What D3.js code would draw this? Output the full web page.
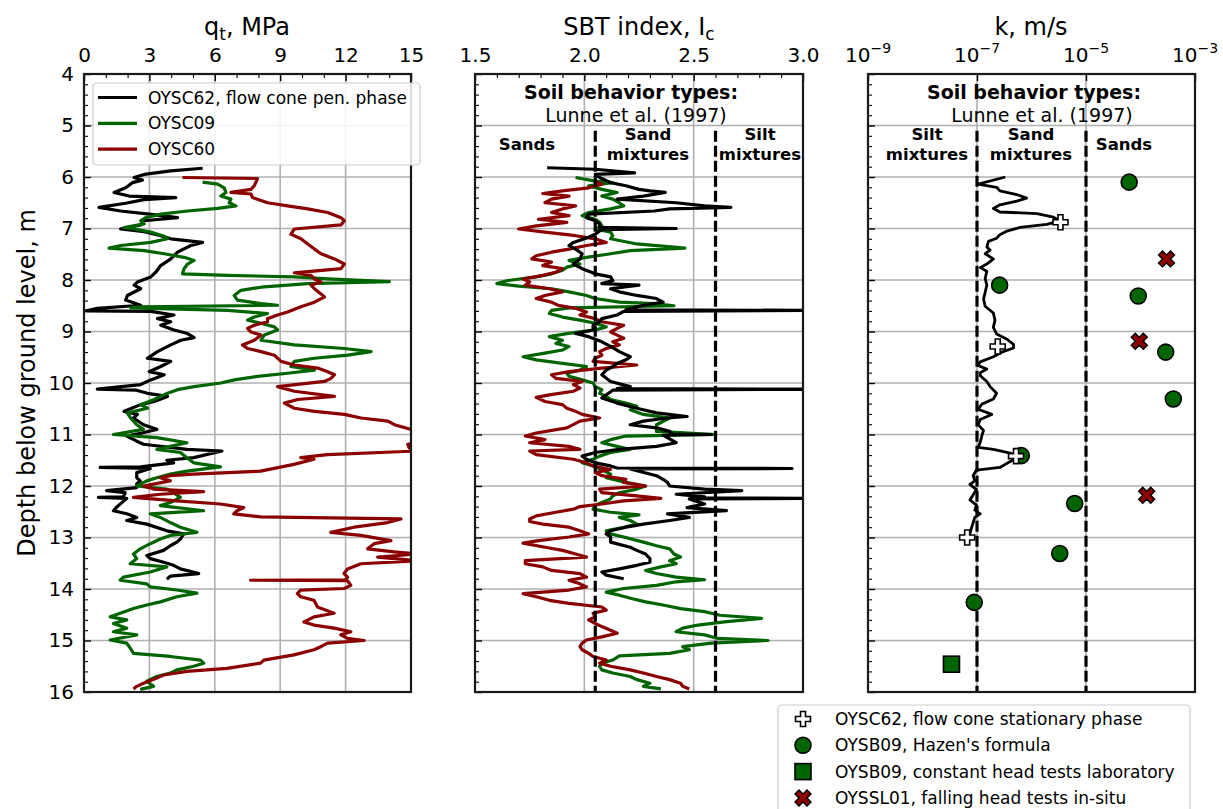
<!DOCTYPE html>
<html><head><meta charset="utf-8">
<script src="https://cdn.jsdelivr.net/npm/d3@7"></script>
<style>
body{margin:0;background:#fff;}
svg text{font-family:"DejaVu Sans",sans-serif;}
</style>
</head><body>
<svg id="chart" width="1223" height="809"></svg>
<script>
// ---------------- DATA ----------------
// Panel 1: cone tip resistance qt [depth m, qt MPa]
const qtOYSC62 = [[5.83,5.44],[5.88,3.98],[5.95,2.76],[6.01,2.30],[6.06,2.68],[6.11,2.22],[6.21,1.91],[6.30,1.38],[6.37,2.07],[6.40,4.21],[6.44,2.76],[6.51,1.91],[6.59,0.69],[6.66,1.68],[6.72,2.99],[6.79,4.29],[6.85,2.76],[6.93,2.60],[7.01,1.68],[7.06,2.76],[7.14,3.52],[7.20,3.98],[7.27,5.44],[7.33,4.90],[7.46,4.29],[7.59,3.98],[7.72,3.52],[7.85,3.29],[7.94,3.06],[8.04,2.45],[8.10,2.30],[8.17,2.60],[8.30,1.99],[8.39,1.91],[8.49,2.60],[8.55,0.61],[8.60,0.10],[8.61,3.06],[8.68,4.13],[8.75,3.37],[8.81,3.98],[8.88,3.52],[8.97,4.13],[9.04,4.75],[9.12,5.05],[9.17,4.44],[9.26,3.98],[9.39,3.37],[9.52,2.91],[9.58,3.98],[9.68,3.52],[9.78,2.99],[9.84,3.68],[9.94,3.06],[10.03,2.60],[10.12,0.61],[10.14,2.40],[10.20,2.91],[10.26,3.83],[10.36,3.22],[10.42,2.60],[10.55,1.84],[10.61,2.45],[10.68,2.27],[10.81,2.73],[10.90,3.34],[10.97,2.65],[11.03,1.96],[11.13,2.42],[11.19,2.73],[11.29,4.72],[11.32,6.33],[11.45,5.03],[11.50,3.80],[11.55,4.11],[11.63,2.60],[11.64,0.74],[11.66,3.04],[11.74,2.42],[11.84,2.42],[11.90,2.58],[11.96,2.42],[12.03,2.42],[12.09,1.04],[12.13,1.89],[12.21,1.80],[12.22,0.66],[12.24,1.96],[12.41,1.50],[12.48,1.35],[12.54,1.96],[12.61,2.42],[12.67,1.96],[12.74,2.88],[12.87,3.80],[12.93,4.57],[13.03,4.42],[13.09,4.26],[13.16,3.96],[13.25,3.65],[13.35,2.88],[13.41,3.04],[13.48,3.65],[13.54,4.11],[13.61,4.42],[13.70,5.26],[13.75,3.96],[13.81,3.80]];
const qtOYSC09 = [[6.10,5.44],[6.14,6.13],[6.21,6.43],[6.30,6.51],[6.37,6.28],[6.43,6.74],[6.50,6.66],[6.56,6.97],[6.61,6.13],[6.66,4.75],[6.72,3.52],[6.79,2.83],[6.85,2.60],[6.91,2.76],[6.98,1.84],[7.02,2.45],[7.07,3.06],[7.15,3.68],[7.20,3.83],[7.27,3.06],[7.33,1.68],[7.38,1.15],[7.43,2.76],[7.49,3.68],[7.56,4.59],[7.62,5.05],[7.69,4.75],[7.78,4.59],[7.88,4.52],[7.91,6.58],[7.94,9.65],[7.98,11.18],[8.03,14.01],[8.07,10.26],[8.14,8.12],[8.20,7.20],[8.30,6.89],[8.39,7.04],[8.46,8.12],[8.49,8.88],[8.52,2.60],[8.54,2.14],[8.59,6.58],[8.65,8.42],[8.72,7.81],[8.78,7.50],[8.84,8.12],[8.91,8.73],[8.97,8.88],[9.07,8.27],[9.17,8.12],[9.26,9.65],[9.33,11.94],[9.39,13.17],[9.46,12.10],[9.52,10.57],[9.58,9.65],[9.68,9.49],[9.75,10.57],[9.81,9.34],[9.87,7.96],[9.94,6.89],[10.00,6.28],[10.07,5.05],[10.13,4.29],[10.20,3.83],[10.26,3.52],[10.32,3.22],[10.42,2.60],[10.49,2.91],[10.58,1.99],[10.68,2.14],[10.81,2.42],[10.90,2.73],[11.00,1.35],[11.06,3.34],[11.16,4.72],[11.23,3.96],[11.29,3.34],[11.35,4.42],[11.45,4.72],[11.55,5.03],[11.63,6.26],[11.71,4.72],[11.77,3.96],[11.84,3.34],[11.90,2.88],[12.00,2.42],[12.06,3.80],[12.13,4.11],[12.22,4.42],[12.32,3.96],[12.38,3.50],[12.48,5.49],[12.54,3.04],[12.61,3.50],[12.71,3.96],[12.80,4.42],[12.90,5.18],[12.96,3.96],[13.03,3.50],[13.12,3.04],[13.22,2.58],[13.32,2.27],[13.41,2.42],[13.51,2.12],[13.57,3.80],[13.67,3.04],[13.77,1.81],[13.83,1.66],[13.90,2.88],[13.96,3.04],[14.02,4.26],[14.08,5.18],[14.15,4.26],[14.25,3.50],[14.31,2.88],[14.38,2.27],[14.47,1.66],[14.54,1.20],[14.60,1.96],[14.67,1.35],[14.76,1.96],[14.83,1.35],[14.89,2.42],[14.99,1.20],[15.05,1.96],[15.15,2.12],[15.25,2.27],[15.31,3.96],[15.38,5.34],[15.44,5.49],[15.50,5.03],[15.57,4.26],[15.63,3.96],[15.70,3.34],[15.79,2.88],[15.89,3.19],[15.95,2.58]];
const qtOYSC60 = [[6.01,4.52],[6.03,7.96],[6.17,7.81],[6.24,7.66],[6.30,6.74],[6.33,7.66],[6.40,7.73],[6.50,8.42],[6.56,9.34],[6.62,10.26],[6.69,11.18],[6.79,11.79],[6.85,11.94],[6.93,11.79],[7.01,9.65],[7.11,9.49],[7.20,9.95],[7.30,10.26],[7.40,10.57],[7.49,10.87],[7.59,11.49],[7.69,11.94],[7.78,11.79],[7.86,9.65],[7.91,10.41],[7.98,10.57],[8.04,10.87],[8.10,10.41],[8.17,10.57],[8.27,10.87],[8.33,11.03],[8.43,10.57],[8.52,9.95],[8.62,9.34],[8.68,8.88],[8.75,8.42],[8.81,8.42],[8.88,7.81],[8.94,7.50],[9.01,7.66],[9.07,8.12],[9.17,7.81],[9.26,7.27],[9.33,7.50],[9.39,8.12],[9.46,8.73],[9.52,8.88],[9.58,9.04],[9.65,9.65],[9.71,10.72],[9.78,11.18],[9.84,11.49],[9.91,11.33],[9.97,11.03],[10.07,8.88],[10.16,9.65],[10.26,11.49],[10.32,9.80],[10.39,9.19],[10.49,9.65],[10.55,10.57],[10.61,11.94],[10.68,12.71],[10.74,13.94],[10.81,14.24],[10.90,15.00],[10.97,15.40],[11.13,15.60],[11.19,14.85],[11.26,14.92],[11.32,15.30],[11.39,11.17],[11.45,9.94],[11.48,10.55],[11.58,9.63],[11.71,8.10],[11.77,5.03],[11.80,3.96],[11.84,3.50],[11.90,3.96],[12.00,2.73],[12.06,3.19],[12.11,5.49],[12.16,3.50],[12.22,2.27],[12.29,4.26],[12.35,6.26],[12.42,7.33],[12.48,7.02],[12.54,6.87],[12.60,8.10],[12.64,14.54],[12.71,13.93],[12.80,12.39],[12.90,11.32],[12.96,12.70],[13.06,14.08],[13.12,13.31],[13.22,13.01],[13.28,14.23],[13.32,15.30],[13.38,13.47],[13.45,15.30],[13.51,12.70],[13.61,12.09],[13.70,11.93],[13.77,12.09],[13.82,12.00],[13.83,7.64],[13.84,12.09],[13.93,12.24],[13.99,11.93],[14.02,9.94],[14.09,9.79],[14.15,9.94],[14.22,10.55],[14.35,10.71],[14.47,11.47],[14.54,10.55],[14.64,10.09],[14.70,10.55],[14.76,11.47],[14.83,12.24],[14.89,11.78],[14.96,12.09],[15.00,12.85],[15.05,11.17],[15.12,10.86],[15.18,10.55],[15.28,9.63],[15.38,8.25],[15.44,8.10],[15.54,6.56],[15.60,4.72],[15.67,3.65],[15.73,3.34],[15.83,2.73],[15.89,2.42],[15.94,2.27]];

// Panel 2: SBT index Ic [depth m, Ic]
const icOYSC62 = [[5.82,1.83],[5.85,2.05],[5.92,2.23],[5.95,2.05],[6.01,2.07],[6.11,2.12],[6.17,2.19],[6.24,2.25],[6.27,2.30],[6.30,2.37],[6.37,2.27],[6.43,2.15],[6.50,2.42],[6.56,2.55],[6.59,2.67],[6.62,2.39],[6.66,2.32],[6.72,2.02],[6.79,2.01],[6.85,2.05],[6.91,2.07],[6.98,2.07],[7.00,2.42],[7.02,2.08],[7.11,2.05],[7.17,2.02],[7.27,1.95],[7.33,1.93],[7.40,1.96],[7.49,1.99],[7.59,1.98],[7.69,1.95],[7.78,1.99],[7.88,2.05],[7.94,2.12],[8.01,2.13],[8.07,2.08],[8.10,2.25],[8.17,2.12],[8.23,2.16],[8.30,2.24],[8.36,2.33],[8.43,2.36],[8.49,2.27],[8.58,2.19],[8.59,3.10],[8.61,2.18],[8.68,2.15],[8.75,2.08],[8.81,2.07],[8.88,2.04],[8.97,2.04],[9.04,1.96],[9.10,2.02],[9.20,2.08],[9.29,2.12],[9.39,2.16],[9.49,2.21],[9.55,2.19],[9.62,2.15],[9.68,2.13],[9.75,2.10],[9.84,2.08],[9.97,2.12],[10.07,2.21],[10.11,2.15],[10.12,3.10],[10.14,2.13],[10.29,2.08],[10.39,2.15],[10.49,2.24],[10.58,2.33],[10.65,2.47],[10.68,2.38],[10.74,2.27],[10.81,2.21],[10.87,2.33],[10.94,2.39],[10.99,2.40],[11.00,2.58],[11.01,2.36],[11.16,2.42],[11.23,2.33],[11.29,2.16],[11.35,2.05],[11.42,1.99],[11.48,2.01],[11.55,2.05],[11.61,2.12],[11.65,2.15],[11.66,2.95],[11.67,2.21],[11.80,2.33],[11.87,2.36],[11.93,2.38],[12.00,2.39],[12.06,2.55],[12.09,2.72],[12.16,2.42],[12.21,2.55],[12.23,2.50],[12.24,3.10],[12.25,2.48],[12.35,2.55],[12.42,2.47],[12.48,2.65],[12.54,2.38],[12.61,2.48],[12.67,2.39],[12.74,2.27],[12.80,2.19],[12.87,2.12],[12.93,2.10],[12.99,2.12],[13.09,2.12],[13.19,2.21],[13.25,2.24],[13.32,2.28],[13.41,2.30],[13.48,2.30],[13.54,2.24],[13.61,2.16],[13.67,2.08],[13.73,2.10],[13.80,2.18]];
const icOYSC09 = [[6.01,1.96],[6.08,2.05],[6.11,2.13],[6.17,2.02],[6.24,2.08],[6.30,2.15],[6.37,2.08],[6.43,2.13],[6.50,2.16],[6.56,2.18],[6.62,2.12],[6.69,2.02],[6.75,1.99],[6.82,2.05],[6.88,2.07],[6.95,2.08],[7.01,2.05],[7.07,2.12],[7.14,2.13],[7.20,2.12],[7.30,2.24],[7.38,2.46],[7.43,2.21],[7.49,2.12],[7.56,2.01],[7.62,1.93],[7.69,1.98],[7.75,1.92],[7.81,1.90],[7.88,1.85],[7.94,1.78],[8.01,1.65],[8.07,1.60],[8.12,1.70],[8.17,1.85],[8.23,1.93],[8.30,2.01],[8.36,2.05],[8.43,2.16],[8.46,2.32],[8.50,2.41],[8.54,1.93],[8.59,1.85],[8.65,1.84],[8.72,1.90],[8.78,1.98],[8.84,2.05],[8.91,2.10],[8.97,2.05],[9.04,1.92],[9.10,1.84],[9.17,1.90],[9.23,1.87],[9.29,1.93],[9.36,1.90],[9.42,1.82],[9.49,1.72],[9.55,1.78],[9.62,1.90],[9.68,2.01],[9.75,1.98],[9.81,1.92],[9.87,1.93],[9.94,1.99],[10.00,2.04],[10.07,2.05],[10.13,2.08],[10.20,2.07],[10.26,2.10],[10.32,2.12],[10.39,2.19],[10.45,2.24],[10.52,2.21],[10.61,2.27],[10.68,2.39],[10.81,2.33],[10.94,2.33],[11.00,2.60],[11.03,2.19],[11.10,2.12],[11.16,2.08],[11.23,2.15],[11.29,2.21],[11.35,2.12],[11.42,2.07],[11.48,2.04],[11.55,1.99],[11.61,2.04],[11.68,2.08],[11.77,2.12],[11.84,2.10],[11.93,2.19],[12.00,2.28],[12.06,2.24],[12.13,2.16],[12.19,2.13],[12.25,2.12],[12.32,2.08],[12.38,2.05],[12.45,2.04],[12.51,2.12],[12.56,2.25],[12.61,2.16],[12.67,2.21],[12.74,2.24],[12.80,2.18],[12.87,2.10],[12.93,2.12],[12.99,2.18],[13.09,2.27],[13.16,2.33],[13.22,2.39],[13.32,2.41],[13.38,2.44],[13.45,2.39],[13.51,2.42],[13.57,2.35],[13.64,2.28],[13.70,2.33],[13.77,2.42],[13.82,2.55],[13.86,2.42],[13.93,2.33],[13.99,2.18],[14.06,2.10],[14.12,2.16],[14.19,2.22],[14.25,2.28],[14.31,2.36],[14.38,2.44],[14.44,2.55],[14.51,2.62],[14.57,2.81],[14.64,2.64],[14.70,2.52],[14.76,2.45],[14.83,2.42],[14.89,2.55],[14.96,2.61],[15.00,2.84],[15.05,2.58],[15.12,2.45],[15.18,2.48],[15.25,2.39],[15.30,2.16],[15.38,2.13],[15.44,2.08],[15.50,2.07],[15.57,2.08],[15.63,2.13],[15.70,2.21],[15.76,2.24],[15.83,2.30],[15.89,2.27],[15.94,2.35]];
const icOYSC60 = [[6.08,2.05],[6.14,2.08],[6.21,2.02],[6.27,1.90],[6.32,1.81],[6.37,1.93],[6.43,1.85],[6.50,1.82],[6.56,1.96],[6.62,1.90],[6.69,1.85],[6.75,1.93],[6.82,1.79],[6.88,1.92],[6.95,1.78],[7.01,1.70],[7.07,1.82],[7.14,1.96],[7.20,2.05],[7.27,2.10],[7.33,2.01],[7.40,1.93],[7.46,1.85],[7.53,1.78],[7.59,1.76],[7.65,1.85],[7.72,1.81],[7.78,1.90],[7.85,1.87],[7.91,1.81],[7.98,1.72],[8.04,1.75],[8.10,1.73],[8.17,1.84],[8.23,1.90],[8.30,1.82],[8.36,1.78],[8.43,1.85],[8.49,1.88],[8.55,1.96],[8.62,2.01],[8.68,1.98],[8.75,2.05],[8.81,2.08],[8.88,2.18],[8.94,2.15],[9.01,2.12],[9.07,2.15],[9.13,2.18],[9.20,2.13],[9.26,2.16],[9.33,2.10],[9.39,2.07],[9.46,2.08],[9.52,2.05],[9.58,2.04],[9.65,2.24],[9.71,2.08],[9.78,1.93],[9.84,1.85],[9.91,1.87],[9.97,1.99],[10.03,1.95],[10.10,1.98],[10.16,1.95],[10.23,1.84],[10.28,1.78],[10.36,1.82],[10.42,1.90],[10.49,1.92],[10.55,1.96],[10.61,1.99],[10.68,2.07],[10.74,1.98],[10.87,1.92],[10.97,1.78],[11.03,1.73],[11.10,1.82],[11.16,1.75],[11.23,1.93],[11.29,1.98],[11.32,1.75],[11.39,1.78],[11.48,1.95],[11.55,2.01],[11.61,2.04],[11.68,2.12],[11.74,2.05],[11.80,2.08],[11.87,2.19],[11.93,2.18],[12.00,2.28],[12.06,2.07],[12.13,2.08],[12.19,2.24],[12.24,2.35],[12.29,2.18],[12.35,2.08],[12.40,1.98],[12.45,1.95],[12.51,1.87],[12.58,1.78],[12.64,1.75],[12.69,1.75],[12.74,1.81],[12.80,1.93],[12.87,1.98],[12.93,2.02],[12.99,1.93],[13.06,1.79],[13.11,1.72],[13.19,1.82],[13.25,1.90],[13.32,1.96],[13.38,2.01],[13.45,1.73],[13.51,1.73],[13.57,1.81],[13.64,1.85],[13.70,1.98],[13.77,2.01],[13.83,1.93],[13.90,1.98],[13.96,2.01],[14.02,1.93],[14.09,1.72],[14.15,1.78],[14.22,1.84],[14.28,1.93],[14.35,2.08],[14.41,2.10],[14.47,2.04],[14.54,2.05],[14.60,2.02],[14.67,2.05],[14.73,2.08],[14.80,2.12],[14.86,2.15],[14.93,2.08],[14.99,2.01],[15.05,1.99],[15.12,1.98],[15.18,1.99],[15.25,2.02],[15.31,2.04],[15.38,2.10],[15.44,2.07],[15.50,2.12],[15.57,2.21],[15.63,2.27],[15.70,2.33],[15.76,2.39],[15.83,2.44],[15.89,2.45],[15.94,2.48]];
const icBoundaries = [2.05, 2.6];

// Panel 3: hydraulic conductivity, [depth m, log10(k in m/s)] for the flow-cone profile
const kOYSC62FlowLog10 = [[6.00,-6.48],[6.14,-6.98],[6.20,-6.64],[6.27,-6.58],[6.34,-6.27],[6.41,-6.09],[6.47,-6.27],[6.54,-6.58],[6.61,-6.70],[6.68,-6.58],[6.71,-5.90],[6.78,-5.60],[6.85,-5.47],[6.92,-5.72],[6.98,-6.21],[7.05,-6.45],[7.12,-6.58],[7.19,-6.64],[7.25,-6.79],[7.36,-6.82],[7.42,-6.76],[7.49,-6.85],[7.59,-6.70],[7.69,-6.82],[7.76,-6.94],[7.83,-6.82],[7.97,-6.85],[8.10,-6.82],[8.24,-6.85],[8.37,-6.88],[8.51,-6.85],[8.64,-6.70],[8.78,-6.67],[8.92,-6.70],[9.05,-6.64],[9.15,-6.45],[9.25,-6.33],[9.32,-6.33],[9.39,-6.52],[9.49,-6.70],[9.59,-6.94],[9.66,-6.98],[9.73,-6.82],[9.80,-6.94],[9.86,-6.94],[9.97,-6.82],[10.07,-6.76],[10.20,-6.64],[10.31,-6.70],[10.41,-6.91],[10.51,-6.98],[10.61,-6.73],[10.71,-6.94],[10.81,-6.98],[10.92,-6.88],[11.02,-6.91],[11.15,-6.94],[11.25,-6.98],[11.29,-6.70],[11.36,-6.39],[11.42,-6.27],[11.49,-6.33],[11.56,-6.45],[11.64,-6.58],[11.69,-7.01],[11.80,-7.07],[11.90,-7.04],[11.97,-7.13],[12.07,-7.01],[12.17,-7.07],[12.27,-7.13],[12.37,-7.01],[12.47,-7.04],[12.54,-6.94],[12.61,-7.04],[12.71,-7.07],[12.81,-7.10],[12.92,-7.13],[13.00,-7.18]];
// point measurements [depth m, k m/s]
const kOYSC62Stationary = [[6.88,3.4e-6],[9.29,2.4e-7],[11.42,5.2e-7],[13.00,6.6e-8]];
const kOYSB09Hazen = [[6.10,6.2e-5],[8.10,2.6e-7],[8.31,9.1e-5],[9.40,2.9e-4],[10.31,4.0e-4],[11.41,6.5e-7],[12.34,6.2e-6],[13.31,3.3e-6],[14.26,8.9e-8]];
const kOYSB09ConstHead = [[15.46,3.4e-8]];
const kOYSSL01FallingHead = [[7.59,3.0e-4],[9.19,9.5e-5],[12.18,1.3e-4]];
const kBoundaries = [1e-7, 1e-5];

const depthTicks = [4,5,6,7,8,9,10,11,12,13,14,15,16];
const qtTicks = [0,3,6,9,12,15];
const icTicks = [1.5,2.0,2.5,3.0];
const kTicks = [1e-9,1e-7,1e-5,1e-3];

const C_BLACK = "#000000", C_GREEN = "#006400", C_RED = "#8b0000";

// ---------------- LAYOUT ----------------
const svg = d3.select("#chart");
const TOP = 74, BOT = 692;
const y = d3.scaleLinear().domain([4,16]).range([TOP,BOT]);
const x1 = d3.scaleLinear().domain([0,15]).range([84,411]);
const x2 = d3.scaleLinear().domain([1.5,3.0]).range([475,803]);
const x3 = d3.scaleLog().domain([1e-9,1e-3]).range([868,1195]);

const gridColor = "#b0b0b0";
const minorDepth = d3.range(4,16.001,0.2).map(v=>+v.toFixed(1)).filter(v=>Math.abs(v-Math.round(v))>1e-6);

function panel(id, x, vgrid, majors, minors, showDepthLabels, fmt){
  const [xa, xb] = x.range();
  const g = svg.append("g");
  g.append("clipPath").attr("id","clip"+id).append("rect")
    .attr("x",xa).attr("y",TOP).attr("width",xb-xa).attr("height",BOT-TOP);
  const grid = g.append("g").attr("stroke",gridColor).attr("stroke-width",1.6);
  depthTicks.slice(1,-1).forEach(d=>grid.append("line").attr("x1",xa).attr("x2",xb).attr("y1",y(d)).attr("y2",y(d)));
  vgrid.forEach(v=>grid.append("line").attr("x1",x(v)).attr("x2",x(v)).attr("y1",TOP).attr("y2",BOT));
  const data = g.append("g").attr("clip-path","url(#clip"+id+")");
  const over = g.append("g");
  const axes = g.append("g");
  const ta = axes.append("g").attr("transform",`translate(0,${TOP})`)
    .call(d3.axisTop(x).tickValues(majors).tickSize(-7).tickPadding(12).tickFormat(fmt||null));
  ta.select(".domain").remove();
  ta.selectAll("text").attr("font-size",20).attr("font-family","DejaVu Sans").attr("fill","#000");
  ta.selectAll("line").attr("stroke","#000").attr("stroke-width",1.4);
  if(minors.length){
    const tm = axes.append("g").attr("transform",`translate(0,${TOP})`)
      .call(d3.axisTop(x).tickValues(minors).tickSize(-4).tickFormat(""));
    tm.select(".domain").remove();
    tm.selectAll("line").attr("stroke","#000").attr("stroke-width",1.1);
  }
  const la = axes.append("g").attr("transform",`translate(${xa},0)`)
    .call(d3.axisLeft(y).tickValues(depthTicks).tickSize(-7).tickPadding(10).tickFormat(showDepthLabels? d3.format("d") : ""));
  la.select(".domain").remove();
  la.selectAll("text").attr("font-size",20).attr("font-family","DejaVu Sans").attr("fill","#000");
  la.selectAll("line").attr("stroke","#000").attr("stroke-width",1.4);
  const lm = axes.append("g").attr("transform",`translate(${xa},0)`)
    .call(d3.axisLeft(y).tickValues(minorDepth).tickSize(-4).tickFormat(""));
  lm.select(".domain").remove();
  lm.selectAll("line").attr("stroke","#000").attr("stroke-width",1.1);
  axes.append("rect").attr("x",xa).attr("y",TOP).attr("width",xb-xa).attr("height",BOT-TOP)
    .attr("fill","none").attr("stroke","#1a1a1a").attr("stroke-width",2.2);
  return {g, data, over, axes, xa, xb};
}

function drawLine(layer, arr, x, color, tf, w){
  const line = d3.line().x(d=>x(tf?tf(d[1]):d[1])).y(d=>y(d[0]));
  layer.append("path").datum(arr).attr("d",line).attr("fill","none")
    .attr("stroke",color).attr("stroke-width",w||3.2).attr("stroke-linejoin","round").attr("stroke-linecap","butt");
}

// ----- Panel 1 -----
const p1 = panel(1, x1, [3,6,9,12], qtTicks, d3.range(0,16).filter(v=>v%3!==0), true, d3.format("d"));
drawLine(p1.data, qtOYSC62, x1, C_BLACK);
drawLine(p1.data, qtOYSC09, x1, C_GREEN);
drawLine(p1.data, qtOYSC60, x1, C_RED);

// ----- Panel 2 -----
const p2 = panel(2, x2, [2.0,2.5], icTicks, d3.range(1.6,3.0,0.1).map(v=>+v.toFixed(1)).filter(v=>!icTicks.includes(v)), false, d3.format(".1f"));
drawLine(p2.data, icOYSC09, x2, C_GREEN);
drawLine(p2.data, icOYSC60, x2, C_RED);
drawLine(p2.data, icOYSC62, x2, C_BLACK);
icBoundaries.forEach(v=>p2.over.append("line").attr("x1",x2(v)).attr("x2",x2(v)).attr("y1",y(5.1)).attr("y2",BOT)
  .attr("stroke","#000").attr("stroke-width",3.2).attr("stroke-dasharray","11,4"));

// ----- Panel 3 -----
const p3 = panel(3, x3, [1e-7,1e-5], kTicks, [], false, ()=> "");
p3.axes.selectAll(".klab").data(kTicks).enter().append("text")
  .attr("x",d=>x3(d)).attr("y",TOP-12).attr("text-anchor","middle").attr("font-size",20).attr("fill","#000")
  .each(function(d){
    const t = d3.select(this);
    t.append("tspan").text("10");
    t.append("tspan").attr("dy",-9).attr("font-size",14).text("\u2212"+Math.round(-Math.log10(d)));
  });
kBoundaries.forEach(v=>p3.over.append("line").attr("x1",x3(v)).attr("x2",x3(v)).attr("y1",y(5.1)).attr("y2",BOT)
  .attr("stroke","#000").attr("stroke-width",3.2).attr("stroke-dasharray","11,4"));
drawLine(p3.over, kOYSC62FlowLog10, x3, C_BLACK, v=>Math.pow(10,v), 2.8);

const plusPath = s => { const u=s/6; const pts=[[-1,-3],[1,-3],[1,-1],[3,-1],[3,1],[1,1],[1,3],[-1,3],[-1,1],[-3,1],[-3,-1],[-1,-1]];
  return "M"+pts.map(p=>[p[0]*u,p[1]*u].join(",")).join("L")+"Z"; };
const xPath = s => { const u=s/4; const pts=[[-1,-2],[0,-1],[1,-2],[2,-1],[1,0],[2,1],[1,2],[0,1],[-1,2],[-2,1],[-1,0],[-2,-1]];
  return "M"+pts.map(p=>[p[0]*u,p[1]*u].join(",")).join("L")+"Z"; };

function drawMarker(layer, kind, cx, cy){
  if(kind==="circle") layer.append("circle").attr("cx",cx).attr("cy",cy).attr("r",8).attr("fill",C_GREEN).attr("stroke","#000").attr("stroke-width",1.6);
  if(kind==="square") layer.append("rect").attr("x",cx-8).attr("y",cy-8).attr("width",16).attr("height",16).attr("fill",C_GREEN).attr("stroke","#000").attr("stroke-width",1.6);
  if(kind==="x") layer.append("path").attr("d",xPath(16)).attr("transform",`translate(${cx},${cy})`).attr("fill",C_RED).attr("stroke","#000").attr("stroke-width",1.4);
  if(kind==="plus") layer.append("path").attr("d",plusPath(15)).attr("transform",`translate(${cx},${cy})`).attr("fill","#fff").attr("stroke","#000").attr("stroke-width",1.6);
}
function markers(layer, arr, kind){ arr.forEach(d=>drawMarker(layer, kind, x3(d[1]), y(d[0]))); }
markers(p3.over, kOYSB09Hazen, "circle");
markers(p3.over, kOYSB09ConstHead, "square");
markers(p3.over, kOYSSL01FallingHead, "x");
markers(p3.over, kOYSC62Stationary, "plus");

// ----- annotations -----
function sbtHeader(layer, cx1, cx2){
  layer.append("text").attr("x",cx1).attr("y",99).attr("text-anchor","middle").attr("font-size",19).attr("font-weight","bold").text("Soil behavior types:");
  layer.append("text").attr("x",cx2).attr("y",122).attr("text-anchor","middle").attr("font-size",19).text("Lunne et al. (1997)");
}
function region(layer, cx, lines){
  if(lines.length===1){
    layer.append("text").attr("x",cx).attr("y",150).attr("text-anchor","middle").attr("font-size",16.5).attr("font-weight","bold").text(lines[0]);
  } else {
    layer.append("text").attr("x",cx).attr("y",140).attr("text-anchor","middle").attr("font-size",16.5).attr("font-weight","bold").text(lines[0]);
    layer.append("text").attr("x",cx).attr("y",160).attr("text-anchor","middle").attr("font-size",16.5).attr("font-weight","bold").text(lines[1]);
  }
}
sbtHeader(p2.over, 631, 636);
region(p2.over, 527, ["Sands"]);
region(p2.over, 648, ["Sand","mixtures"]);
region(p2.over, 760, ["Silt","mixtures"]);
sbtHeader(p3.over, 1034, 1042);
region(p3.over, 927, ["Silt","mixtures"]);
region(p3.over, 1031, ["Sand","mixtures"]);
region(p3.over, 1124, ["Sands"]);

// ----- titles -----
function title(cx, main, sub, rest){
  const t = svg.append("text").attr("x",cx).attr("y",35).attr("text-anchor","middle").attr("font-size",24).attr("fill","#000");
  t.append("tspan").text(main);
  if(sub){ t.append("tspan").attr("dy",5).attr("font-size",17).text(sub); t.append("tspan").attr("dy",-5).text(rest); }
}
title(247, "q", "t", ", MPa");
title(639, "SBT index, I", "c", "");
title(1031, "k, m/s");
svg.append("text").attr("transform","translate(35,383) rotate(-90)").attr("text-anchor","middle")
  .attr("font-size",24).attr("fill","#000").text("Depth below ground level, m");

// ----- legend panel 1 -----
const leg1 = svg.append("g");
leg1.append("rect").attr("x",93).attr("y",83).attr("width",327).attr("height",82).attr("rx",4)
  .attr("fill","#fff").attr("fill-opacity",0.85).attr("stroke","#cccccc").attr("stroke-width",1.2);
[["OYSC62, flow cone pen. phase",C_BLACK],["OYSC09",C_GREEN],["OYSC60",C_RED]].forEach((e,i)=>{
  const yy = 97.5 + i*25.8;
  leg1.append("line").attr("x1",98).attr("x2",137).attr("y1",yy).attr("y2",yy).attr("stroke",e[1]).attr("stroke-width",3.2);
  leg1.append("text").attr("x",148).attr("y",yy+6).attr("font-size",17).attr("fill","#000").text(e[0]);
});

// ----- legend panel 3 (below) -----
const leg3 = svg.append("g");
leg3.append("rect").attr("x",778).attr("y",705).attr("width",412).attr("height",115).attr("rx",4)
  .attr("fill","#fff").attr("stroke","#cccccc").attr("stroke-width",1.2);
[["OYSC62, flow cone stationary phase","plus"],["OYSB09, Hazen's formula","circle"],["OYSB09, constant head tests laboratory","square"],["OYSSL01, falling head tests in-situ","x"]].forEach((e,i)=>{
  const yy = 719 + i*26.3;
  drawMarker(leg3, e[1], 803, yy);
  leg3.append("text").attr("x",835).attr("y",yy+6).attr("font-size",17).attr("fill","#000").text(e[0]);
});
</script>
</body></html>
